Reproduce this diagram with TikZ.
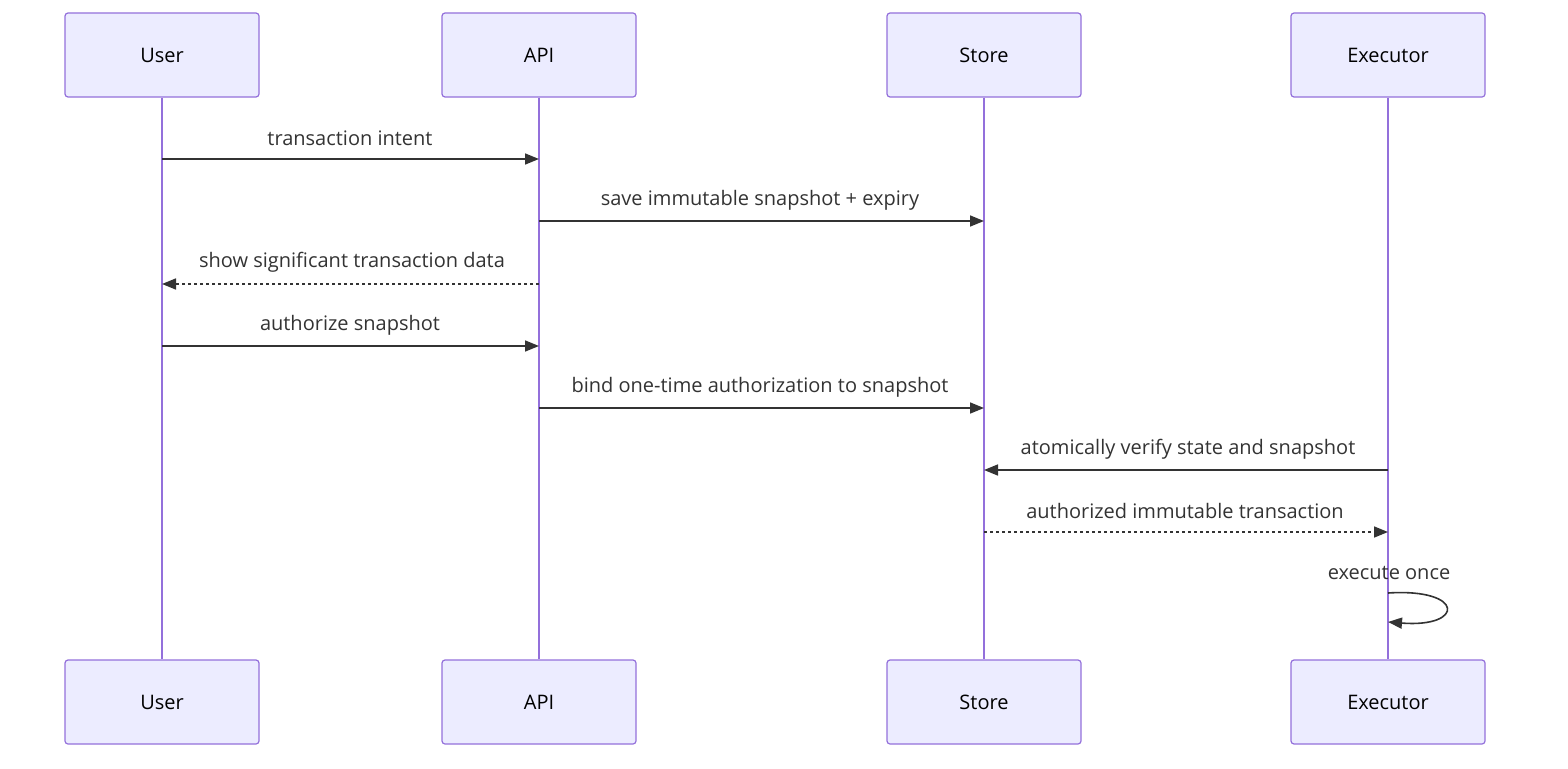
\documentclass[tikz,border=0pt]{standalone}
\usepackage{fontspec}
\setmainfont{Open Sans}
\usetikzlibrary{arrows.meta}
\definecolor{actfill}{HTML}{ECECFF}
\definecolor{actline}{HTML}{9370DB}
\definecolor{msgcol}{HTML}{333333}
\tikzset{
  actor/.style={draw=actline,fill=actfill,line width=1.2pt,rounded corners=3pt,
    minimum width=194pt,minimum height=84pt,font=\fontsize{20}{24}\selectfont},
  lifeline/.style={actline,line width=2.2pt},
  msg/.style={msgcol,line width=1.6pt,-{Triangle[length=14pt,width=11pt]}},
  reply/.style={msg,dash pattern=on 3pt off 3pt},
  msglabel/.style={text=msgcol,font=\fontsize{20}{24}\selectfont}
}
\begin{document}
\begin{tikzpicture}[x=1pt,y=-1pt]
  \useasboundingbox (0,0) rectangle (1568,768);
  % participants, top and bottom
  \foreach \name/\txt/\xx in {user/User/162,api/API/539,store/Store/984,exec/Executor/1388}{
    \node[actor] (\name T) at (\xx,55) {\txt};
    \node[actor] (\name B) at (\xx,702) {\txt};
    \draw[lifeline] (\name T.south) -- (\name B.north);
  }
  % messages
  \draw[msg] (userT |- 0,159) -- (apiT |- 0,159);
  \node[msglabel] (m1) at (350,138) {transaction intent};
  \draw[msg] (apiT |- 0,221) -- (storeT |- 0,221);
  \node[msglabel] (m2) at (760,200) {save immutable snapshot + expiry};
  \draw[reply] (apiT |- 0,284) -- (userT |- 0,284);
  \node[msglabel] (m3) at (352,262) {show significant transaction data};
  \draw[msg] (userT |- 0,346) -- (apiT |- 0,346);
  \node[msglabel] (m4) at (350,325) {authorize snapshot};
  \draw[msg] (apiT |- 0,408) -- (storeT |- 0,408);
  \node[msglabel] (m5) at (760,387) {bind one-time authorization to snapshot};
  \draw[msg] (execT |- 0,470) -- (storeT |- 0,470);
  \node[msglabel] (m6) at (1188,449) {atomically verify state and snapshot};
  \draw[reply] (storeT |- 0,532) -- (execT |- 0,532);
  \node[msglabel] (m7) at (1185,511) {authorized immutable transaction};
  % self message
  \coordinate (loopA) at (1388,593);
  \coordinate (loopB) at (1388,622);
  \draw[msg] (loopA) .. controls (1465,588) and (1465,628) .. (loopB);
  \node[msglabel] (m8) at (1389,573) {execute once};
\end{tikzpicture}
\end{document}
